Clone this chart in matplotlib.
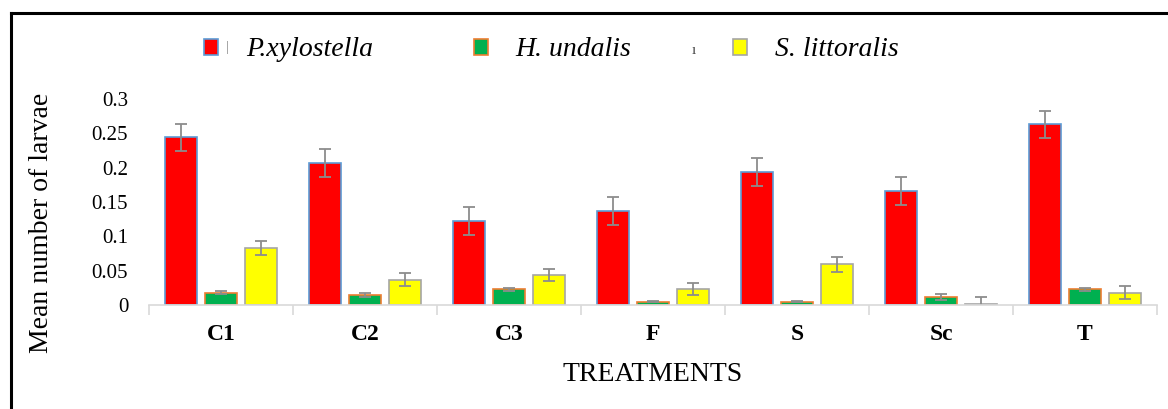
import numpy as np
import matplotlib
matplotlib.use("Agg")
import matplotlib.pyplot as plt
from matplotlib.patches import Patch
from matplotlib.lines import Line2D

plt.rcParams['font.family'] = ['Liberation Serif', 'DejaVu Serif']

treatments = ["C1", "C2", "C3", "F", "S", "Sc", "T"]
species = ["P.xylostella", "H. undalis", "S. littoralis"]

p_xylostella = [0.244, 0.207, 0.122, 0.137, 0.194, 0.166, 0.263]
p_xylostella_err = [0.020, 0.020, 0.020, 0.020, 0.020, 0.020, 0.020]
h_undalis = [0.018, 0.014, 0.023, 0.005, 0.005, 0.012, 0.023]
h_undalis_err = [0.002, 0.003, 0.002, 0.001, 0.001, 0.004, 0.002]
s_littoralis = [0.083, 0.037, 0.044, 0.023, 0.059, 0.001, 0.018]
s_littoralis_err = [0.010, 0.009, 0.009, 0.009, 0.011, 0.011, 0.009]

fills = ["#ff0000", "#00b050", "#ffff00"]
edges = ["#5b9bd5", "#ed7d31", "#a5a5a5"]

fig = plt.figure(figsize=(11.68, 4.09), dpi=100)
ax = fig.add_axes([149 / 1168, 1 - 305 / 409, 1008 / 1168, 206 / 409])

x = np.arange(len(treatments))
width = 0.222
offset = 0.278
series = [(p_xylostella, p_xylostella_err), (h_undalis, h_undalis_err),
          (s_littoralis, s_littoralis_err)]
for i, (vals, errs) in enumerate(series):
    ax.bar(x + (i - 1) * offset, vals, width, color=fills[i], edgecolor=edges[i],
           linewidth=1.2, yerr=errs, capsize=4.6,
           error_kw=dict(ecolor="#8c8c8c", elinewidth=1.3, capthick=1.3))

ax.set_xlim(-0.5, len(treatments) - 0.5)
ax.set_ylim(0, 0.3)
ax.set_yticks([0, 0.05, 0.1, 0.15, 0.2, 0.25, 0.3])
ax.set_yticklabels(["0", "0.05", "0.1", "0.15", "0.2", "0.25", "0.3"], fontsize=15)
ax.tick_params(axis="y", length=0, pad=15)

ax.set_xticks(x)
ax.set_xticklabels(treatments, fontsize=17, fontweight="bold")
ax.set_xticks(np.arange(len(treatments) + 1) - 0.5, minor=True)
ax.tick_params(axis="x", which="major", length=0, pad=14)
ax.tick_params(axis="x", which="minor", length=7, color="#d9d9d9", width=1.2)

for side in ["top", "right", "left"]:
    ax.spines[side].set_visible(False)
ax.spines["bottom"].set_color("#d9d9d9")
ax.spines["bottom"].set_linewidth(1.2)

ax.set_ylabel("Mean number of larvae", fontsize=20)
ax.yaxis.set_label_coords(-0.094, 0.40)
ax.set_xlabel("TREATMENTS", fontsize=20)
ax.xaxis.set_label_coords(0.5, -0.277)

handles = [Patch(facecolor=fills[i], edgecolor=edges[i], linewidth=1.2) for i in range(3)]
leg = fig.legend(handles, species, loc="center left", bbox_to_anchor=(179 / 1168, 1 - 50 / 409),
                 ncol=3, frameon=False, handlelength=0.5, handleheight=0.5,
                 handletextpad=1.0, columnspacing=3.65,
                 prop=dict(family="Liberation Serif", style="italic", size=20))

# small error-bar marks left over in the legend
fig.text(227 / 1168, 1 - 48 / 409, "|", color="#8c8c8c", fontsize=11, ha="center", va="center")
fig.text(694 / 1168, 1 - 51 / 409, "ı", color="#404040", fontsize=11, ha="center", va="center")

# outer frame
fig.add_artist(Line2D([11 / 1168, 11 / 1168], [0, 1 - 13 / 409], color="black", linewidth=2.2))
fig.add_artist(Line2D([11 / 1168, 1], [1 - 13 / 409, 1 - 13 / 409], color="black", linewidth=2.2))

fig.savefig("out.png", dpi=100)
